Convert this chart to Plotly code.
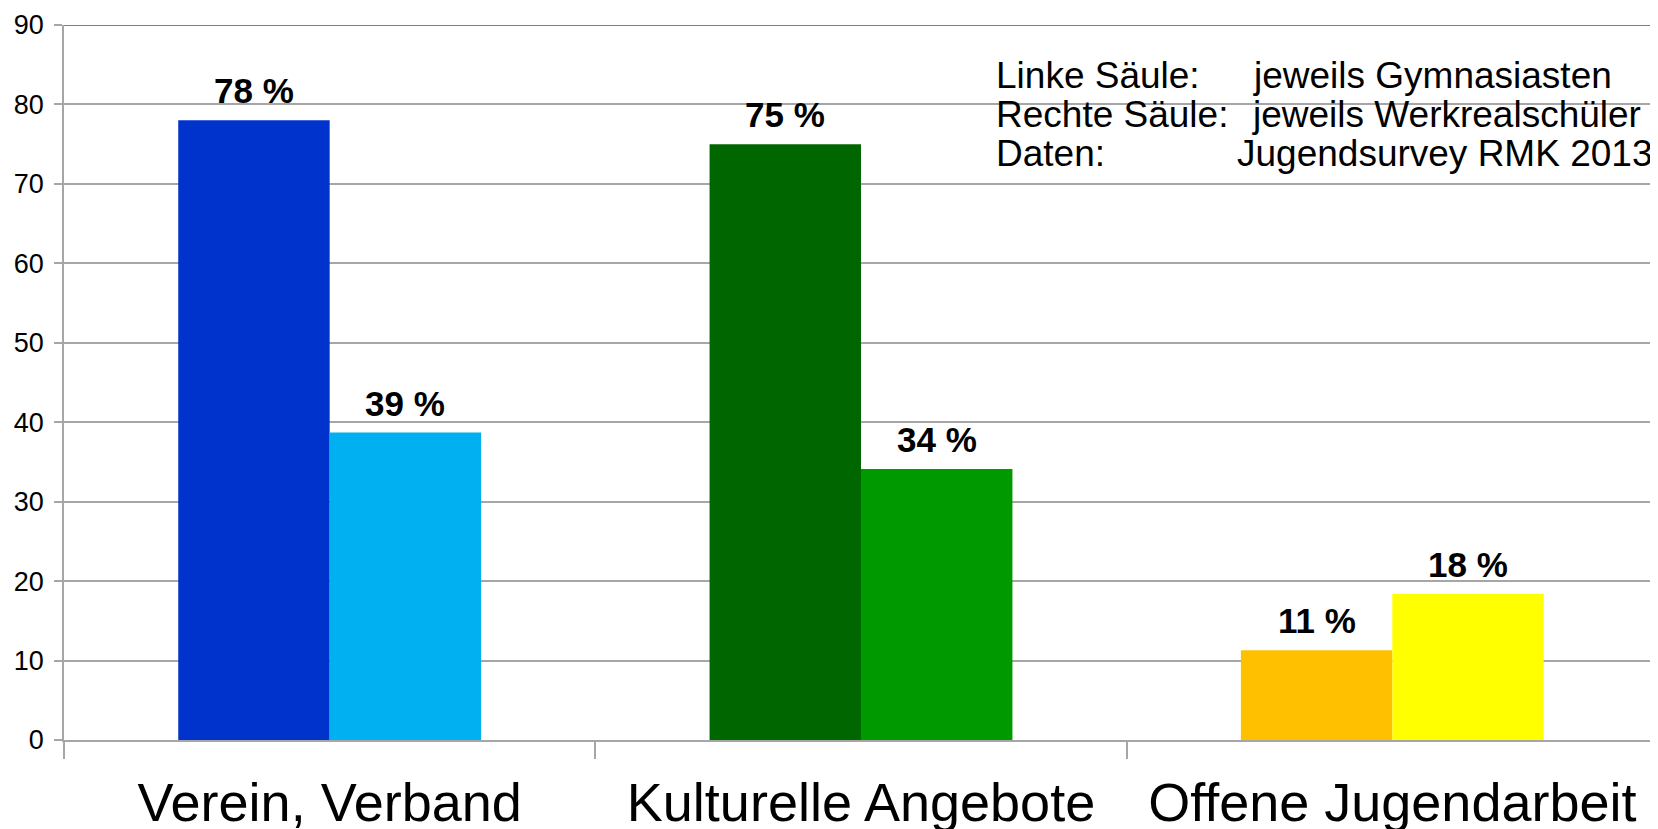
import plotly.graph_objects as go

categories = ["Verein, Verband", "Kulturelle Angebote", "Offene Jugendarbeit"]
gymnasiasten = [78.0, 75.0, 11.3]          # left column
werkrealschueler = [38.7, 34.1, 18.4]      # right column
left_colors = ["#0033CC", "#006600", "#FFC000"]
right_colors = ["#00B0F0", "#009900", "#FFFF00"]
y_ticks = [0, 10, 20, 30, 40, 50, 60, 70, 80, 90]

info_left = ["Linke Säule:", "Rechte Säule:", "Daten:"]
info_right = ["jeweils Gymnasiasten", "jeweils Werkrealschüler", "Jugendsurvey RMK 2013"]

FONT = "Arial, 'Liberation Sans', sans-serif"
GRID = "#a6a6a6"

fig = go.Figure()
fig.add_trace(go.Bar(x=categories, y=gymnasiasten, marker=dict(color=left_colors, line=dict(width=0)),
                     showlegend=False, hoverinfo="skip"))
fig.add_trace(go.Bar(x=categories, y=werkrealschueler, marker=dict(color=right_colors, line=dict(width=0)),
                     showlegend=False, hoverinfo="skip"))

# the page body adds an 8px margin, so the figure is 8px smaller than the window
W, H = 1650, 821
ML, MR, MT, MB = 56, 0, 17, 89
plot_w = W - ML - MR
bargap = 0.43
bar_px = plot_w / len(categories) * (1 - bargap) / 2

annotations = []
for series, sign in ((gymnasiasten, -1), (werkrealschueler, 1)):
    for c, v in zip(categories, series):
        annotations.append(dict(x=c, y=v, xref="x", yref="y", text=f"{round(v)} %",
                                showarrow=False, xanchor="center", yanchor="bottom",
                                xshift=sign * bar_px / 2, yshift=8,
                                font=dict(family=FONT, size=35, color="black", weight="bold")))

row_y = [0.8985, 0.8439, 0.7894]
left_x = [0.5834, 0.5834, 0.5834]
right_x = [0.7447, 0.7440, 0.7346]
for i in range(3):
    annotations.append(dict(x=left_x[i], y=row_y[i], xref="paper", yref="paper", text=info_left[i],
                            showarrow=False, xanchor="left", yanchor="bottom",
                            font=dict(family=FONT, size=37, color="black")))
    annotations.append(dict(x=right_x[i], y=row_y[i], xref="paper", yref="paper", text=info_right[i],
                            showarrow=False, xanchor="left", yanchor="bottom",
                            font=dict(family=FONT, size=37, color="black")))

fig.update_layout(
    width=W, height=H, autosize=False,
    margin=dict(l=ML, r=MR, t=MT, b=MB, pad=0),
    paper_bgcolor="white", plot_bgcolor="white",
    barmode="group", bargap=bargap, bargroupgap=0,
    font=dict(family=FONT, color="black"),
    annotations=annotations,
    shapes=[dict(type="line", xref="paper", yref="y", x0=0, x1=1, y0=90, y1=90,
                 line=dict(color="#555555", width=1.5), layer="above")],
    xaxis=dict(type="category", range=[-0.5, 2.5], tickson="boundaries", ticks="outside",
               ticklen=17, tickcolor=GRID, tickwidth=1.5, showline=True, linecolor=GRID,
               linewidth=1.5, showgrid=False, zeroline=False, automargin=False,
               tickfont=dict(family=FONT, size=54, color="black"), ticklabelstandoff=14),
    yaxis=dict(range=[0, 90], tickvals=y_ticks, ticks="outside", ticklen=8, tickcolor=GRID,
               tickwidth=1.5, showline=True, linecolor=GRID, linewidth=1.5, showgrid=True,
               gridcolor=GRID, gridwidth=1.5, zeroline=False, automargin=False,
               tickfont=dict(family=FONT, size=27, color="black"), ticklabelstandoff=5),
)

fig.write_html("out.html")
